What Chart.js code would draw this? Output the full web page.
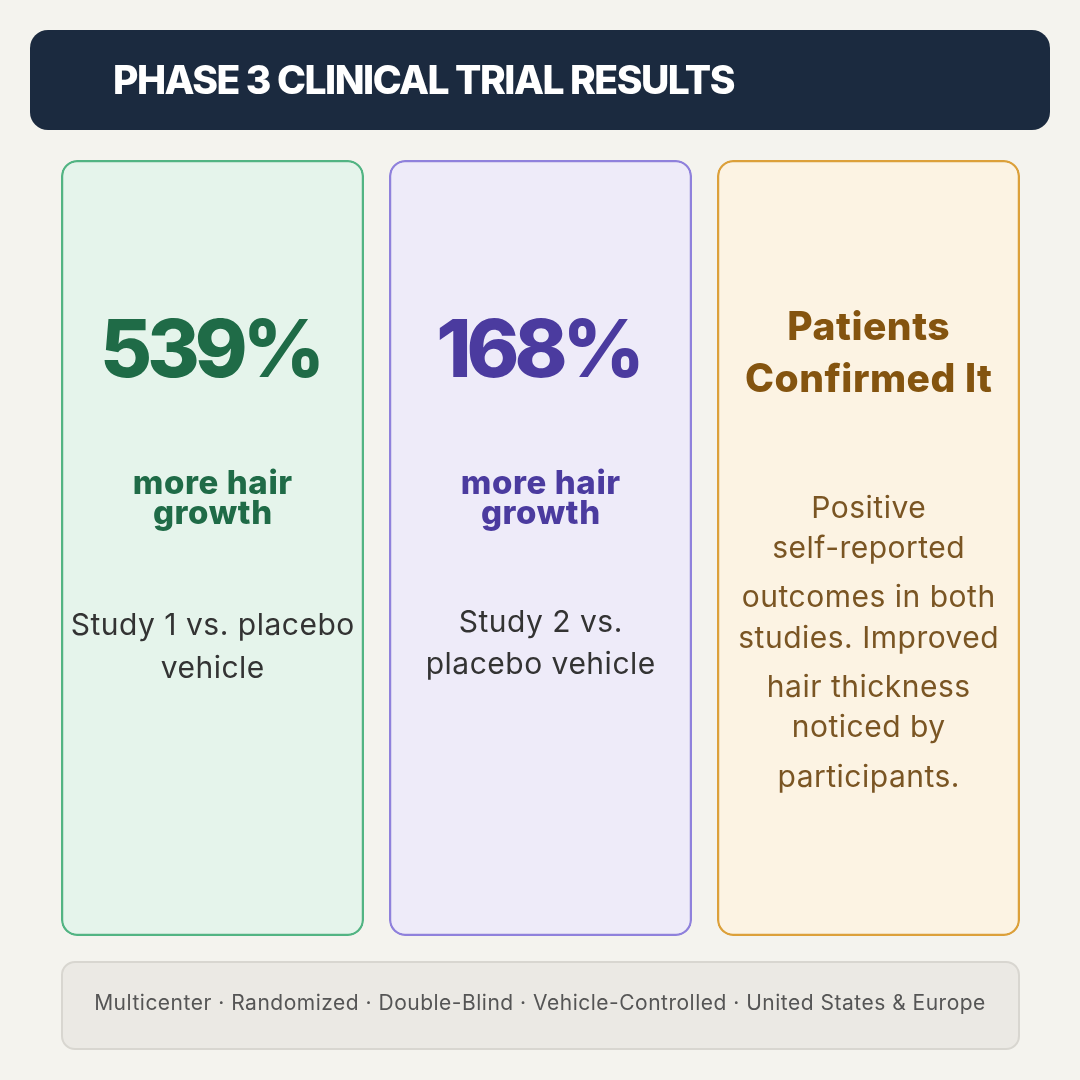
<!DOCTYPE html>
<html><head><meta charset="utf-8">
<script src="https://cdn.jsdelivr.net/npm/chart.js@4/dist/chart.umd.min.js"></script>
<style>
html,body{margin:0;padding:0;}
body{width:1080px;height:1080px;background:#f4f3ee;position:relative;overflow:hidden;font-family:Inter,"Open Sans",sans-serif;}
#header{position:absolute;left:30px;top:30px;width:1020px;height:100px;background:#1b2a3f;border-radius:18px;}
#footer{position:absolute;left:61px;top:961px;width:955px;height:85px;background:#ebe9e4;border:2px solid #d8d6d0;border-radius:14px;}
#cv{position:absolute;left:0;top:0;}
.t{position:absolute;width:340px;text-align:center;white-space:nowrap;line-height:1;}
</style></head>
<body>
<div id="header"></div>
<div id="footer"></div>
<canvas id="cv" width="1080" height="1080"></canvas>
<div id="texts"></div>
<script>
// ---- data ----
const cardLabels = ['Study 1', 'Study 2', 'Patients'];
const cardExtent = [[0, 1], [0, 1], [0, 1]];
const headlines = [['539%'], ['168%'], ['Patients', 'Confirmed It']];
const subheads = [['more hair', 'growth'], ['more hair', 'growth'], []];
const notes = [
  ['Study 1 vs. placebo', 'vehicle'],
  ['Study 2 vs.', 'placebo vehicle'],
  ['Positive', 'self-reported', 'outcomes in both', 'studies. Improved', 'hair thickness', 'noticed by', 'participants.']
];
const title = 'PHASE 3 CLINICAL TRIAL RESULTS';
const footnote = 'Multicenter · Randomized · Double-Blind · Vehicle-Controlled · United States & Europe';

// ---- styles ----
const fills = ['#e5f4eb', '#eeebf9', '#fcf3e3'];
const borders = ['#52b483', '#8f81dc', '#dca03a'];
const headColors = ['#1f6b47', '#4b3b9f', '#84540f'];
const noteColors = ['#333333', '#333333', '#7a5523'];

const chart = new Chart(document.getElementById('cv'), {
  type: 'bar',
  data: {
    labels: cardLabels,
    datasets: [{
      data: cardExtent,
      backgroundColor: fills,
      borderColor: borders,
      borderWidth: 2.5,
      borderRadius: 16,
      borderSkipped: false,
      barPercentage: 1,
      categoryPercentage: 303 / 328
    }]
  },
  options: {
    responsive: false,
    animation: false,
    devicePixelRatio: 1,
    layout: { padding: { left: 48.5, right: 47.5, top: 160, bottom: 144 } },
    plugins: { legend: { display: false }, tooltip: { enabled: false } },
    scales: {
      x: { display: false },
      y: { display: false, min: 0, max: 1 }
    }
  }
});

const holder = document.getElementById('texts');
function place(text, cx, baseline, size, weight, color, ls, extra) {
  ls = ls || 0;
  const d = document.createElement('div');
  d.className = 't';
  d.textContent = text;
  d.style.left = (cx - 170 + ls / 2) + 'px';
  d.style.top = (baseline - 0.864 * size) + 'px';
  d.style.fontSize = size + 'px';
  d.style.fontWeight = weight;
  d.style.color = color;
  d.style.letterSpacing = ls + 'px';
  if (extra) Object.assign(d.style, extra);
  holder.appendChild(d);
  return d;
}

const xs = chart.scales.x;
const top0 = chart.chartArea.top;
// title
place(title, 0, 94, 39, 800, '#ffffff', -1.5, { width: 'auto', left: '113px' });
// footer
place(footnote, 540, 1010, 21, 400, '#555555', 0.5, { width: '1000px', left: '40px' });

const headBase = [[217], [217], [180, 232]];
const headSize = [80, 80, 39];
const headLs = [-5, -5, 0.5];
const subBase = [335, 365];
const noteBase = [[475, 518], [472, 514], [358, 398, 447, 488, 537, 577, 627]];
const noteSize = [30, 30, 30];

for (let i = 0; i < cardLabels.length; i++) {
  const cx = xs.getPixelForValue(i);
  headlines[i].forEach((s, k) => place(s, cx, top0 + headBase[i][k], headSize[i], 800, headColors[i], headLs[i]));
  subheads[i].forEach((s, k) => place(s, cx, top0 + subBase[k], 33, 800, headColors[i], 0.6));
  notes[i].forEach((s, k) => place(s, cx, top0 + noteBase[i][k], noteSize[i], 400, noteColors[i], 0.5));
}
</script>
</body></html>
